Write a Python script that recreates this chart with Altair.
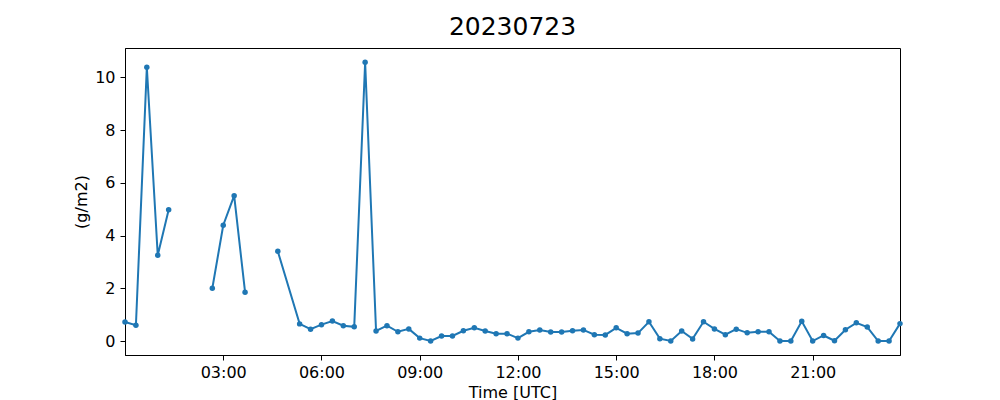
import altair as alt
import pandas as pd

times = ["00:00", "00:20", "00:40", "01:00", "01:20", "01:40", "02:00", "02:20",
         "02:40", "03:00", "03:20", "03:40", "04:00", "04:20", "04:40", "05:20",
         "05:40", "06:00", "06:20", "06:40", "07:00", "07:20", "07:40", "08:00",
         "08:20", "08:40", "09:00", "09:20", "09:40", "10:00", "10:20", "10:40",
         "11:00", "11:20", "11:40", "12:00", "12:20", "12:40", "13:00", "13:20",
         "13:40", "14:00", "14:20", "14:40", "15:00", "15:20", "15:40", "16:00",
         "16:20", "16:40", "17:00", "17:20", "17:40", "18:00", "18:20", "18:40",
         "19:00", "19:20", "19:40", "20:00", "20:20", "20:40", "21:00", "21:20",
         "21:40", "22:00", "22:20", "22:40", "23:00", "23:20", "23:40"]

values = [0.72, 0.60, 10.38, 3.25, 4.98, None, None, None,
          2.00, 4.39, 5.51, 1.85, None, None, 3.40, 0.65,
          0.45, 0.62, 0.76, 0.58, 0.54, 10.57, 0.38, 0.58,
          0.35, 0.46, 0.11, 0.00, 0.19, 0.19, 0.39, 0.50,
          0.38, 0.28, 0.28, 0.11, 0.35, 0.42, 0.34, 0.34,
          0.39, 0.42, 0.24, 0.23, 0.50, 0.28, 0.30, 0.73,
          0.09, 0.00, 0.38, 0.08, 0.73, 0.46, 0.24, 0.45,
          0.31, 0.35, 0.35, 0.00, 0.00, 0.75, 0.00, 0.21,
          0.01, 0.43, 0.69, 0.53, 0.00, 0.00, 0.66]

y_ticks = [0, 2, 4, 6, 8, 10]
x_tick_hours = [3, 6, 9, 12, 15, 18, 21]

seg = []
s = 0
for v in values:
    if v is None:
        s += 1
    seg.append(s)

df = pd.DataFrame({
    "time": ["2023-07-23T" + t + ":00Z" for t in times],
    "value": values,
    "segment": seg,
})
df = df[df["value"].notna()]

def dt(h, m=0):
    return alt.DateTime(year=2023, month=7, date=23, hours=h, minutes=m, utc=True)

x_enc = alt.X(
    "time:T",
    scale=alt.Scale(type="utc", domain=[dt(0), dt(23, 40)]),
    axis=alt.Axis(values=[dt(h) for h in x_tick_hours],
                  labelExpr="utcFormat(datum.value, '%H:%M')",
                  title="Time [UTC]", labelPadding=4,
                  titlePadding=4, labelFlush=False),
)
y_enc = alt.Y(
    "value:Q",
    scale=alt.Scale(domain=[-0.53, 11.11], nice=False, zero=False),
    axis=alt.Axis(values=y_ticks, title="(g/m2)", labelPadding=5, titlePadding=5),
)

color = "#1f77b4"
line = alt.Chart(df).mark_line(color=color, strokeWidth=2).encode(
    x=x_enc, y=y_enc, detail="segment:N"
)
pts = alt.Chart(df).mark_circle(color=color, size=30, opacity=1).encode(
    x=x_enc, y=y_enc
)

chart = (
    (line + pts)
    .properties(
        width=775,
        height=307,
        autosize=alt.AutoSizeParams(type="none"),
        padding={"left": 117, "top": 40, "right": 92, "bottom": 45},
        title=alt.TitleParams("20230723", fontSize=25, font="DejaVu Sans",
                              fontWeight="normal", color="black", offset=8,
                              frame="group", anchor="middle"),
    )
    .configure_view(stroke="black", strokeWidth=1)
    .configure_axis(
        grid=False,
        domainColor="black",
        tickColor="black",
        labelColor="black",
        titleColor="black",
        labelFont="DejaVu Sans",
        titleFont="DejaVu Sans",
        labelFontSize=16,
        titleFontSize=16,
        titleFontWeight="normal",
        tickSize=5,
    )
)

chart.save("out.html", embed_options={"renderer": "svg", "actions": False})
